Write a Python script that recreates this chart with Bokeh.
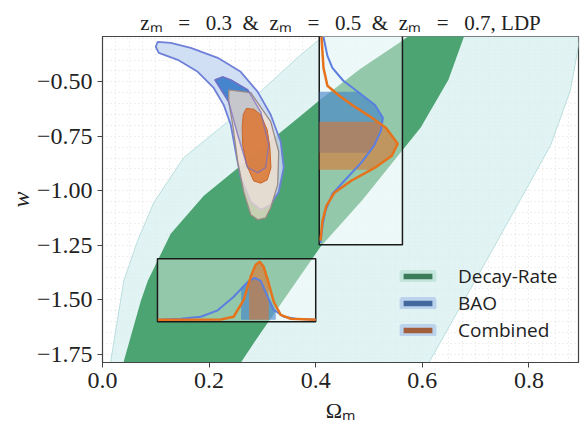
import numpy as np
from bokeh.plotting import figure
from bokeh.models import Range1d, FixedTicker, Legend, LegendItem
from bokeh.embed import file_html
from bokeh.resources import INLINE

# ---------------- data ----------------
EQ = "\u2002 =\u2002 "
AMP = "\u2002&\u2002"
title_text = f"zₘ{EQ}0.3{AMP}zₘ{EQ}0.5{AMP}zₘ{EQ}0.7, LDP"
x_label = "Ωₘ"
y_label = "w"
x_ticks = [0.0, 0.2, 0.4, 0.6, 0.8]
x_tick_labels = ["0.0", "0.2", "0.4", "0.6", "0.8"]
y_ticks = [-0.5, -0.75, -1.0, -1.25, -1.5, -1.75]
y_tick_labels = ["−0.50", "−0.75", "−1.00", "−1.25", "−1.50", "−1.75"]

# Decay-rate 2-sigma region (left edge bottom->top, right edge top->bottom)
dr2_left_om = [0.015, 0.040, 0.066, 0.096, 0.152, 0.235, 0.310, 0.372, 0.420]
dr2_left_w = [-1.79, -1.413, -1.229, -1.055, -0.849, -0.683, -0.514, -0.376, -0.28]
dr2_right_om = [0.897, 0.878, 0.841, 0.784, 0.700, 0.612]
dr2_right_w = [-0.28, -0.537, -0.789, -1.041, -1.408, -1.79]

# Decay-rate 1-sigma region
dr1_left_om = [0.039, 0.072, 0.085, 0.128, 0.190, 0.259, 0.310, 0.372, 0.406, 0.484, 0.559, 0.580]
dr1_left_w = [-1.79, -1.505, -1.413, -1.197, -1.023, -0.885, -0.780, -0.656, -0.587, -0.440, -0.317, -0.28]
dr1_right_om = [0.680, 0.649, 0.597, 0.488, 0.409, 0.297, 0.259]
dr1_right_w = [-0.28, -0.491, -0.710, -1.041, -1.257, -1.651, -1.79]

# BAO contours
bao2_om = [0.1037, 0.1281, 0.1656, 0.2162, 0.2593, 0.2912, 0.3156, 0.3343, 0.3399, 0.3306, 0.3156, 0.2968,
           0.2781, 0.2593, 0.2499, 0.2406, 0.2274, 0.2087, 0.1787, 0.1412, 0.1056, 0.0999]
bao2_w = [-0.3165, -0.321, -0.344, -0.390, -0.454, -0.546, -0.651, -0.775, -0.894, -1.005, -1.064, -1.087,
          -1.050, -0.940, -0.821, -0.697, -0.606, -0.528, -0.454, -0.399, -0.367, -0.339]
bao1_om = [0.2109, 0.2368, 0.2537, 0.2724, 0.2912, 0.3062, 0.3118, 0.2968, 0.2724, 0.2406, 0.2256]
bao1_w = [-0.491, -0.592, -0.743, -0.894, -0.917, -0.894, -0.789, -0.638, -0.537, -0.491, -0.477]

# Combined contours
comb2_om = [0.2368, 0.2781, 0.3156, 0.3306, 0.3287, 0.3156, 0.3062, 0.2912, 0.2781, 0.2649, 0.2537, 0.2443, 0.2368]
comb2_w = [-0.537, -0.550, -0.683, -0.821, -0.972, -1.078, -1.124, -1.133, -1.110, -1.005, -0.867, -0.697, -0.592]
comb1_om = [0.2700, 0.2840, 0.2968, 0.3090, 0.3140, 0.3160, 0.3090, 0.2968, 0.2837, 0.2700, 0.2631, 0.2620, 0.2640]
comb1_w = [-0.622, -0.626, -0.651, -0.720, -0.800, -0.894, -0.950, -0.965, -0.955, -0.880, -0.790, -0.710, -0.650]

# 1D marginal of w (density as fraction of inset width)
w_bao_w = [-0.294, -0.381, -0.436, -0.495, -0.550, -0.606, -0.665, -0.725, -0.794, -0.872, -0.945, -1.014, -1.092, -1.161, -1.239]
w_bao_d = [0.048, 0.095, 0.155, 0.286, 0.476, 0.667, 0.762, 0.738, 0.655, 0.500, 0.321, 0.155, 0.071, 0.036, 0.012]
w_comb_w = [-0.294, -0.436, -0.518, -0.564, -0.610, -0.656, -0.711, -0.784, -0.839, -0.894, -0.954, -1.009, -1.069, -1.138, -1.229]
w_comb_d = [0.024, 0.048, 0.095, 0.238, 0.405, 0.595, 0.798, 0.940, 0.869, 0.667, 0.381, 0.179, 0.083, 0.036, 0.012]
w_bao_interval = [-0.826, -0.546]
w_comb_interval = [-0.904, -0.683]

# 1D marginal of Omega_m (density as fraction of inset height)
om_bao_om = [0.104, 0.1468, 0.1843, 0.2162, 0.2462, 0.2724, 0.2856, 0.2968, 0.310, 0.3212, 0.340, 0.3626, 0.400]
om_bao_d = [0.0, 0.016, 0.048, 0.150, 0.365, 0.603, 0.667, 0.619, 0.365, 0.159, 0.048, 0.016, 0.0]
om_comb_om = [0.104, 0.222, 0.246, 0.265, 0.278, 0.2874, 0.295, 0.3024, 0.310, 0.3212, 0.3343, 0.353, 0.400]
om_comb_d = [0.0, 0.005, 0.048, 0.317, 0.683, 0.873, 0.920, 0.841, 0.635, 0.286, 0.079, 0.016, 0.0]
om_bao_interval = [0.260, 0.325]
om_comb_interval = [0.275, 0.312]

legend_labels = ["Decay-Rate", "BAO", "Combined"]

# ---------------- styling / layout ----------------
C_LIGHT = "#d6eeee"
C_DARK = "#47a16d"
C_BAO2 = "#c9d9f2"
C_BAO1 = "#3c7fcb"
C_COMB2 = "#f6e0cc"
C_COMB1 = "#dc742f"
C_BAO_LINE = "#5a7fe0"
C_COMB_LINE = "#e6721c"
TXT = "#222222"

# inset frames (in the main axes' coordinates)
V_LEFT, V_RIGHT, V_BOTTOM, V_TOP = 0.4066, 0.5627, -1.2477, -0.28
H_LEFT, H_RIGHT, H_BOTTOM, H_TOP = 0.1031, 0.4000, -1.601, -1.312
V_BASE = V_LEFT + 0.0005
H_BASE = H_BOTTOM + 0.009

FW, FH = 476, 326
p = figure(frame_width=FW, frame_height=FH, x_range=Range1d(0, 0.893), y_range=Range1d(-1.788, -0.292),
           output_backend="svg", toolbar_location=None,
           min_border_left=102, min_border_right=4, min_border_top=36, min_border_bottom=62)
p.background_fill_color = "white"
p.border_fill_color = "white"
p.outline_line_color = "#444444"
p.outline_line_width = 1.2

p.title.text = title_text
p.title.align = "center"
p.title.text_font = "Liberation Serif"
p.title.text_font_size = "21px"
p.title.text_font_style = "normal"
p.title.text_color = TXT
p.title.standoff = 4

# grid (faint dotted)
p.xgrid.ticker = FixedTicker(ticks=[i * 0.025 for i in range(37)])
p.ygrid.ticker = FixedTicker(ticks=[-0.3 - i * 0.05 for i in range(31)])
for g in (p.xgrid, p.ygrid):
    g.grid_line_color = "#bdbdbd"
    g.grid_line_dash = "1 3"
    g.grid_line_alpha = 0.45

# axes
p.xaxis.ticker = FixedTicker(ticks=x_ticks)
p.yaxis.ticker = FixedTicker(ticks=y_ticks)
p.xaxis.major_label_overrides = dict(zip(x_ticks, x_tick_labels))
p.yaxis.major_label_overrides = dict(zip(y_ticks, y_tick_labels))
p.xaxis.axis_label = x_label
p.yaxis.axis_label = y_label
for ax in (p.xaxis, p.yaxis):
    ax.major_label_text_font = "Liberation Serif"
    ax.major_label_text_font_size = "24px"
    ax.major_label_text_color = TXT
    ax.axis_label_text_font = "Liberation Serif"
    ax.axis_label_text_color = TXT
    ax.major_tick_out = 5
    ax.major_tick_in = 0
    ax.minor_tick_out = 0
    ax.minor_tick_in = 0
    ax.axis_line_color = "#444444"
    ax.major_tick_line_color = "#444444"
    ax.major_label_standoff = 5
p.xaxis.axis_label_text_font_size = "22px"
p.xaxis.axis_label_text_font_style = "normal"
p.xaxis.axis_label_standoff = 7
p.yaxis.axis_label_text_font_size = "24px"
p.yaxis.axis_label_text_font_style = "italic"
p.yaxis.axis_label_standoff = 0

# decay-rate bands
p.patch(dr2_left_om + dr2_right_om, dr2_left_w + dr2_right_w, fill_color=C_LIGHT, fill_alpha=0.7,
        line_color="#b9dede", line_width=1)
p.patch(dr1_left_om + dr1_right_om, dr1_left_w + dr1_right_w, fill_color=C_DARK, fill_alpha=0.97,
        line_color=None)

# BAO / combined contours
p.patch(bao2_om, bao2_w, fill_color=C_BAO2, fill_alpha=0.85, line_color="#6f80d8", line_width=1.8)
p.patch(bao1_om, bao1_w, fill_color=C_BAO1, fill_alpha=0.95, line_color="#5a72d0", line_width=1.4)
p.patch(comb2_om, comb2_w, fill_color=C_COMB2, fill_alpha=0.72, line_color="#9a8a86", line_width=1.3)
p.patch(comb1_om, comb1_w, fill_color=C_COMB1, fill_alpha=0.85, line_color="#c8662a", line_width=1)
p.patch(bao1_om, bao1_w, fill_alpha=0, line_color="#7a6fc0", line_alpha=0.7, line_width=1.4)


def interval(t, d, lo, hi):
    t = np.asarray(t, float)
    d = np.asarray(d, float)
    o = np.argsort(t)
    t, d = t[o], d[o]
    m = (t > lo) & (t < hi)
    tt = np.concatenate([[lo], t[m], [hi]])
    dd = np.concatenate([[np.interp(lo, t, d)], d[m], [np.interp(hi, t, d)]])
    return tt, dd


# vertical inset: marginal of w
p.quad(left=[V_LEFT], right=[V_RIGHT], bottom=[V_BOTTOM], top=[V_TOP], fill_color="white",
       fill_alpha=0.4, line_color="#1a1a1a", line_width=1.5)
vscale = V_RIGHT - V_LEFT
for (ww, dd, iv, col) in ((w_bao_w, w_bao_d, w_bao_interval, C_BAO1),
                          (w_comb_w, w_comb_d, w_comb_interval, C_COMB1)):
    tt, de = interval(ww, dd, iv[0], iv[1])
    p.harea(x1=[V_BASE] * len(tt), x2=list(V_BASE + de * vscale), y=list(tt), fill_color=col, fill_alpha=0.6)
p.line([V_BASE + d * vscale for d in w_bao_d], w_bao_w, line_color=C_BAO_LINE, line_width=2)
p.line([V_BASE + d * vscale for d in w_comb_d], w_comb_w, line_color=C_COMB_LINE, line_width=2.5)

# horizontal inset: marginal of Omega_m
p.quad(left=[H_LEFT], right=[H_RIGHT], bottom=[H_BOTTOM], top=[H_TOP], fill_color="white",
       fill_alpha=0.4, line_color="#1a1a1a", line_width=1.5)
hscale = H_TOP - H_BOTTOM
for (oo, dd, iv, col) in ((om_bao_om, om_bao_d, om_bao_interval, C_BAO1),
                          (om_comb_om, om_comb_d, om_comb_interval, C_COMB1)):
    tt, de = interval(oo, dd, iv[0], iv[1])
    p.varea(x=list(tt), y1=[H_BASE] * len(tt), y2=list(H_BASE + de * hscale), fill_color=col, fill_alpha=0.6)
p.line(om_bao_om, [H_BASE + d * hscale for d in om_bao_d], line_color=C_BAO_LINE, line_width=2)
p.line(om_comb_om, [H_BASE + d * hscale for d in om_comb_d], line_color=C_COMB_LINE, line_width=2.5)

# legend (proxy renderers placed outside the visible range)
OFF = dict(left=[5], right=[6], top=[5], bottom=[4])
r1 = p.quad(**OFF, fill_color="#3a7d58", line_color="#c4e6dc", line_width=4)
r2 = p.quad(**OFF, fill_color="#44699f", line_color="#bcd3ee", line_width=4)
r3 = p.quad(**OFF, fill_color="#a35e3c", line_color="#bcd3ee", line_width=4)
legend = Legend(items=[LegendItem(label=legend_labels[0], renderers=[r1]),
                       LegendItem(label=legend_labels[1], renderers=[r2]),
                       LegendItem(label=legend_labels[2], renderers=[r3])],
                location=(295, 19), glyph_width=41, glyph_height=12, label_standoff=20,
                label_text_font="Open Sans", label_text_font_size="19px", label_text_color=TXT,
                label_height=25, spacing=1, padding=0, margin=0,
                border_line_alpha=0, background_fill_alpha=0)
p.add_layout(legend)

open("out.html", "w").write(file_html(p, INLINE))
